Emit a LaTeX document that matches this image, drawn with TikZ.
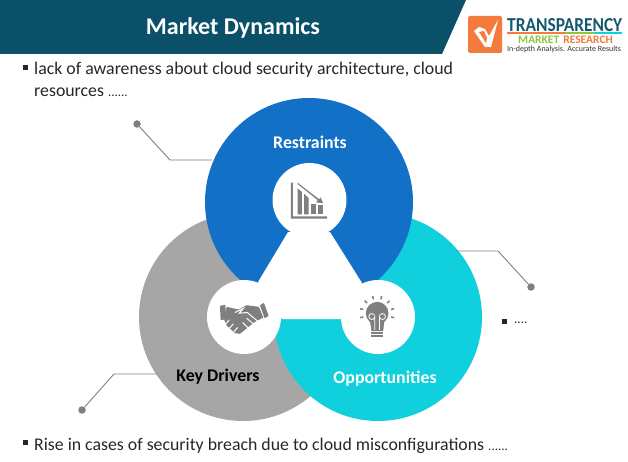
\documentclass[tikz,border=0pt]{standalone}
\usepackage{fontspec}
\usepackage{graphicx}
\setmainfont{Carlito}
\definecolor{headblue}{HTML}{0B5069}
\definecolor{restblue}{HTML}{1270C6}
\definecolor{keygray}{HTML}{A6A6A6}
\definecolor{oppteal}{HTML}{0FD0DC}
\definecolor{icongray}{HTML}{7F7F7F}
\definecolor{linegray}{HTML}{7F7F7F}
\definecolor{logoorange}{HTML}{F47B3E}
\definecolor{logogreen}{HTML}{8CC63F}
\definecolor{logoteal}{HTML}{14596F}
\tikzset{
	ring/.style={circle, minimum size=208pt, inner sep=0pt},
	hub/.style={circle, fill=white, minimum size=74pt, inner sep=0pt},
	body/.style={anchor=west, inner sep=0pt, font=\fontsize{17.8}{20}\selectfont, text=black!85},
	lab/.style={inner sep=0pt, font=\fontsize{17.8}{20}\selectfont\bfseries},
	bul/.style={fill=black!85, minimum size=5pt, inner sep=0pt},
	dot/.style={circle, fill=linegray, minimum size=7.5pt, inner sep=0pt},
	lead/.style={draw=linegray, line width=0.9pt}
}
\begin{document}
\begin{tikzpicture}[x=1pt, y=-1pt]
	\useasboundingbox (0,0) rectangle (628,462);
	% header
	\fill[headblue] (0,0) -- (466,0) -- (442,54) -- (0,54) -- cycle;
	\node[inner sep=0pt, text=white, font=\fontsize{24}{26}\selectfont\bfseries] (title) at (233,28) {Market Dynamics};
	% logo
	\fill[logoorange, rounded corners=1.5pt] (468,16) rectangle (502,53);
	\fill[white] (474,31) -- (479,27) -- (485,29) -- (489,36) -- (498,20) -- (491,47) -- (485,47) -- cycle;
	\fill[logoorange] (479,32) -- (484,31) -- (487,38) -- (486,43) -- cycle;
	\node[inner sep=0pt, anchor=west, text=logoteal, font=\fontsize{20}{22}\selectfont\bfseries] (tmr) at (507,25) {\resizebox{115pt}{13pt}{TRANSPARENCY}};
	\fill[logoorange] (507,32.5) rectangle (565,34);
	\fill[logogreen] (565,32.5) rectangle (595,34);
	\fill[oppteal] (595,32.5) rectangle (622,34);
	\node[inner sep=0pt, anchor=west, font=\fontsize{11.5}{13}\selectfont\bfseries] (mkt) at (518,40) {\textcolor{logogreen}{MARKET}\hspace{4pt}\textcolor{logoorange}{RESEARCH}};
	\node[inner sep=0pt, anchor=west, text=black!80, font=\fontsize{8}{9}\selectfont] (tag) at (507,49.5) {In-depth Analysis. Accurate Results};
	% rings
	\node[ring, fill=keygray] (drivers) at (243,317) {};
	\node[ring, fill=oppteal] (opps) at (378,317) {};
	\node[ring, fill=restblue] (rest) at (309,202) {};
	\fill[white] (288,232) -- (330,232) -- (362,283) -- (341,319) -- (282,319) -- (258,282) -- cycle;
	\node[hub] (hubR) at (309.5,200) {};
	\node[hub] (hubK) at (244,317) {};
	\node[hub] (hubO) at (378,317) {};
	% icons
	\begin{scope}[shift={(190,170)}, x=0.333pt, y=-0.333pt]
		\fill[icongray] (303,38) -- (309,38) -- (309,139) -- (412,139) -- (412,146) -- (303,146) -- cycle;
		\fill[icongray] (323,55) -- (336,66) -- (336,133) -- (323,133) -- cycle;
		\fill[icongray] (343,72) -- (356,84) -- (356,133) -- (343,133) -- cycle;
		\fill[icongray] (363,103) -- (377,103) -- (377,133) -- (363,133) -- cycle;
		\fill[icongray] (383,105) -- (398,105) -- (398,133) -- (383,133) -- cycle;
		\fill[icongray] (325,38) -- (328,42) -- (388,88) -- (392,82) -- (400,100) -- (378,97) -- (384,91) -- (323,42) -- cycle;
		% handshake
		\fill[icongray] (90,408) -- (106,405) -- (109,448) -- (92,451) -- cycle;
		\fill[icongray] (210,406) -- (222,399) -- (236,438) -- (224,445) -- cycle;
		\fill[icongray] (110,411) -- (146,419) -- (170,406) -- (207,411) -- (220,443) -- (192,458) -- (150,492) -- (135,490) -- (110,467) -- (103,450) -- cycle;
		\draw[white, line width=1pt] (135,428) -- (160,416) -- (148,430) -- (172,428) -- (208,458);
		\draw[white, line width=1pt] (118,450) -- (105,465) (130,462) -- (117,477) (143,473) -- (130,488) (170,445) -- (190,462) (158,458) -- (175,475);
		% bulb
		\fill[icongray] (562,430) circle (34);
		\fill[icongray] (540,450) -- (584,450) -- (580,484) -- (545,484) -- cycle;
		\fill[icongray] (545,487) rectangle (580,493);
		\fill[icongray] (545,496) rectangle (580,502);
		\draw[white, line width=0.8pt] (555,480) -- (555,440) arc (0:330:9) (569,480) -- (569,440) arc (180:-150:9);
		\foreach \ang in {-15,15,45,75,105,135,165,195} {
			\draw[icongray, line width=1.5pt] ({562+43*cos(\ang)},{430-43*sin(\ang)}) -- ({562+53*cos(\ang)},{430-53*sin(\ang)});
		}
	\end{scope}
	% labels
	\node[lab, text=white] (labR) at (310,142.5) {Restraints};
	\node[lab, text=black] (labK) at (218,376.5) {Key Drivers};
	\node[lab, text=white] (labO) at (385,378.5) {Opportunities};
	% leaders
	\node[dot] (dotR) at (137,124) {};
	\node[dot] (dotO) at (531,287) {};
	\node[dot] (dotK) at (82,410) {};
	\coordinate (elbR) at (170,160);
	\coordinate (endR) at (212,160);
	\coordinate (elbO) at (498,251);
	\coordinate (endO) at (456,251);
	\coordinate (elbK) at (114,374);
	\coordinate (endK) at (157,374);
	\draw[lead] (dotR) -- (elbR) -- (endR);
	\draw[lead] (dotO) -- (elbO) -- (endO);
	\draw[lead] (dotK) -- (elbK) -- (endK);
	% texts
	\node[bul] (bul1) at (25,68) {};
	\node[body] (txt1) at (34,70) {lack of awareness about cloud security architecture, cloud};
	\node[body] (txt2) at (34,92) {resources \fontsize{13}{15}\selectfont ......};
	\node[bul] (bul2) at (504,321) {};
	\node[body, font=\fontsize{13}{15}\selectfont] (txt3) at (514,323) {....};
	\node[bul] (bul3) at (25,442) {};
	\node[body] (txt4) at (34,445.5) {Rise in cases of security breach due to cloud misconfigurations \fontsize{13}{15}\selectfont ......};
\end{tikzpicture}
\end{document}
